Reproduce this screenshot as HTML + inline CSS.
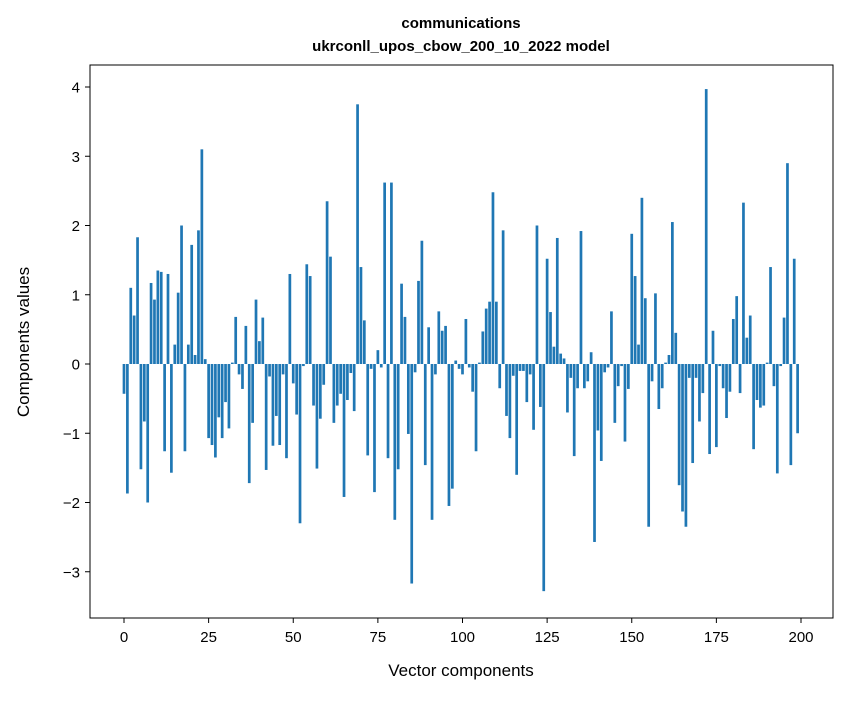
<!DOCTYPE html>
<html><head><meta charset="utf-8"><style>
body{margin:0;background:#fff;font-family:"Liberation Sans",sans-serif}
</style></head><body>
<svg id="chart" width="847" height="696" xmlns="http://www.w3.org/2000/svg" font-family="Liberation Sans, sans-serif">
<rect width="847" height="696" fill="#fff"/>
<text x="461" y="28" text-anchor="middle" font-weight="bold" font-size="15">communications</text>
<text x="461" y="51" text-anchor="middle" font-weight="bold" font-size="15">ukrconll_upos_cbow_200_10_2022 model</text>
<g id="bars"></g>
<g id="axes"></g>
<rect x="90" y="65" width="743" height="553" fill="none" stroke="#000" stroke-width="1"/>
<text x="461" y="676" text-anchor="middle" font-size="17">Vector components</text>
<text transform="translate(29,342) rotate(-90)" text-anchor="middle" font-size="17">Components values</text>
</svg>
<script>
const values=[-0.43,-1.87,1.1,0.7,1.83,-1.52,-0.83,-2.0,1.17,0.93,1.35,1.33,-1.26,1.3,-1.57,0.28,1.03,2.0,-1.26,0.28,1.72,0.13,1.93,3.1,0.07,-1.07,-1.17,-1.35,-0.77,-1.07,-0.55,-0.93,0.02,0.68,-0.15,-0.36,0.55,-1.72,-0.85,0.93,0.33,0.67,-1.53,-0.18,-1.18,-0.75,-1.17,-0.15,-1.36,1.3,-0.28,-0.73,-2.3,-0.03,1.44,1.27,-0.6,-1.51,-0.79,-0.3,2.35,1.55,-0.85,-0.6,-0.43,-1.92,-0.52,-0.13,-0.68,3.75,1.4,0.63,-1.32,-0.07,-1.85,0.2,-0.05,2.62,-1.36,2.62,-2.25,-1.52,1.16,0.68,-1.01,-3.17,-0.12,1.2,1.78,-1.46,0.53,-2.25,-0.15,0.76,0.48,0.55,-2.05,-1.8,0.05,-0.07,-0.15,0.65,-0.05,-0.4,-1.26,0.02,0.47,0.8,0.9,2.48,0.9,-0.35,1.93,-0.75,-1.07,-0.17,-1.6,-0.1,-0.1,-0.55,-0.15,-0.95,2.0,-0.62,-3.28,1.52,0.75,0.25,1.82,0.15,0.08,-0.7,-0.2,-1.33,-0.35,1.92,-0.35,-0.25,0.17,-2.57,-0.96,-1.4,-0.12,-0.05,0.76,-0.85,-0.32,-0.03,-1.12,-0.36,1.88,1.27,0.28,2.4,0.95,-2.35,-0.25,1.02,-0.65,-0.35,0.02,0.13,2.05,0.45,-1.75,-2.13,-2.35,-0.2,-1.43,-0.2,-0.83,-0.42,3.97,-1.3,0.48,-1.2,-0.03,-0.35,-0.78,-0.4,0.65,0.98,-0.42,2.33,0.38,0.7,-1.23,-0.52,-0.63,-0.6,0.02,1.4,-0.32,-1.58,-0.03,0.67,2.9,-1.46,1.52,-1.0];
const xTicks=[0,25,50,75,100,125,150,175,200];
const yTicks=[-3,-2,-1,0,1,2,3,4];
const NS="http://www.w3.org/2000/svg";
const xs=i=>124+i*(801-124)/200;
const ys=v=>364-v*(364-87)/4;
const bars=document.getElementById('bars');
values.forEach((v,i)=>{
 const r=document.createElementNS(NS,'rect');
 const y0=ys(Math.max(v,0)),y1=ys(Math.min(v,0));
 r.setAttribute('x',xs(i-0.4));r.setAttribute('width',xs(0.8)-xs(0));
 r.setAttribute('y',y0);r.setAttribute('height',Math.max(y1-y0,0.1));
 r.setAttribute('fill','#1f77b4');
 
 
 bars.appendChild(r);
});
const ax=document.getElementById('axes');
xTicks.forEach(t=>{
 const l=document.createElementNS(NS,'line');
 l.setAttribute('x1',xs(t));l.setAttribute('x2',xs(t));l.setAttribute('y1',618);l.setAttribute('y2',623);l.setAttribute('stroke','#000');
 
 
 ax.appendChild(l);
 const tx=document.createElementNS(NS,'text');
 tx.setAttribute('x',xs(t));tx.setAttribute('y',642);tx.setAttribute('text-anchor','middle');tx.setAttribute('font-size','15');
 tx.textContent=t;
 
 
 ax.appendChild(tx);
});
yTicks.forEach(t=>{
 const l=document.createElementNS(NS,'line');
 l.setAttribute('x1',85);l.setAttribute('x2',90);l.setAttribute('y1',ys(t));l.setAttribute('y2',ys(t));l.setAttribute('stroke','#000');
 
 
 ax.appendChild(l);
 const tx=document.createElementNS(NS,'text');
 tx.setAttribute('x',80);tx.setAttribute('y',ys(t)+5.5);tx.setAttribute('text-anchor','end');tx.setAttribute('font-size','15');
 tx.textContent=t<0?'\u2212'+(-t):t;
 
 
 ax.appendChild(tx);
});
</script>
</body></html>
